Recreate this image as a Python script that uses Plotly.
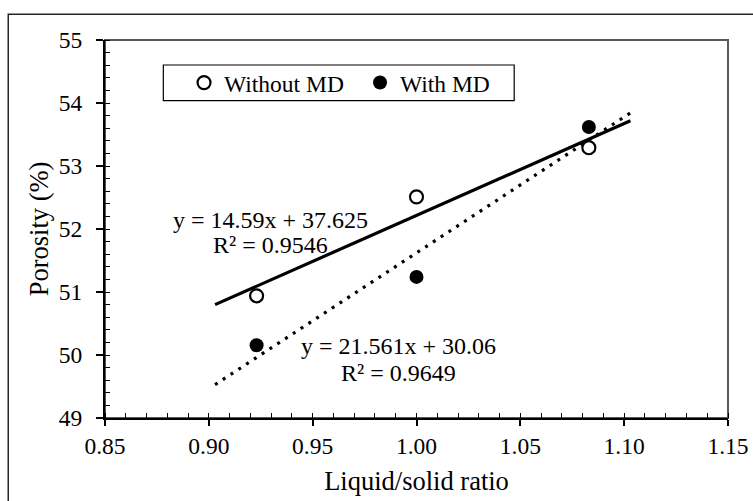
import plotly.graph_objects as go

# ---- data ----
ratio = [0.923, 1.0, 1.083]
porosity_without = [50.94, 52.51, 53.29]
porosity_with = [50.155, 51.24, 53.62]
series_names = ["Without MD", "With MD"]
slopes = [14.59, 21.561]
intercepts = [37.625, 30.06]
r2_values = [0.9546, 0.9649]
x_ticks = [0.85, 0.90, 0.95, 1.00, 1.05, 1.10, 1.15]
y_ticks = [49, 50, 51, 52, 53, 54, 55]
forecast = 0.02

FONT = "Times New Roman, Liberation Serif, serif"
W, H = 753, 501
L, R, T, B = 105, 25.3, 40, 83.3

fig = go.Figure()

# trend lines (from the fitted equations)
x0 = min(ratio) - forecast
x1 = max(ratio) + forecast
for s, b, dash in zip(slopes, intercepts, ["solid", "3px,6.3px"]):
    fig.add_trace(go.Scatter(
        x=[x0, x1], y=[s * x0 + b, s * x1 + b], mode="lines",
        line=dict(color="black", width=3.2, dash=dash),
        showlegend=False, hoverinfo="skip"))

fig.add_trace(go.Scatter(
    x=ratio, y=porosity_without, mode="markers", name=series_names[0],
    marker=dict(symbol="circle-open", size=13, color="black", line=dict(width=2.2))))
fig.add_trace(go.Scatter(
    x=ratio, y=porosity_with, mode="markers", name=series_names[1],
    marker=dict(symbol="circle", size=14, color="black")))

tickfont = dict(family=FONT, size=23.5, color="black")
pw, ph = W - L - R, H - T - B

fig.update_layout(
    width=W, height=H,
    margin=dict(l=L, r=R, t=T, b=B, autoexpand=False),
    paper_bgcolor="white", plot_bgcolor="white",
    font=dict(family=FONT, color="black"),
    showlegend=True,
    legend=dict(orientation="h", x=(184 - L) / pw, xanchor="left", y=0.945, yanchor="top",
                bgcolor="rgba(0,0,0,0)", borderwidth=0,
                font=dict(family=FONT, size=23.5, color="black"),
                entrywidth=131, itemwidth=30, tracegroupgap=0),
    xaxis=dict(range=[0.85, 1.15], tickvals=x_ticks, tickformat=".2f", automargin=False,
               showgrid=False, zeroline=False, showline=True, linecolor="black", linewidth=2,
               ticks="outside", ticklen=6, tickwidth=1.5, tickcolor="black",
               minor=dict(dtick=0.01, ticks="inside", ticklen=5, tickwidth=1.2, tickcolor="black"),
               tickfont=tickfont,
               title=dict(text="Liquid/solid ratio", font=dict(family=FONT, size=26.5, color="black"),
                          standoff=13)),
    yaxis=dict(range=[49, 55], tickvals=y_ticks, automargin=False,
               showgrid=False, zeroline=False, showline=True, linecolor="black", linewidth=2,
               ticks="outside", ticklen=7, tickwidth=1.5, tickcolor="black",
               ticklabelstandoff=9,
               minor=dict(dtick=0.2, ticks="inside", ticklen=5, tickwidth=1.2, tickcolor="black"),
               tickfont=tickfont,
               title=dict(text="Porosity (%)", font=dict(family=FONT, size=26.5, color="black"),
                          standoff=3)),
    xaxis2=dict(range=[0.85, 1.15], tickvals=x_ticks, overlaying="x", anchor="y", side="bottom",
                automargin=False,
                showticklabels=False, showgrid=False, zeroline=False, showline=False,
                ticks="inside", ticklen=6, tickwidth=1.5, tickcolor="black"),
    yaxis2=dict(range=[49, 55], tickvals=y_ticks, overlaying="y", anchor="x", side="left",
                automargin=False,
                showticklabels=False, showgrid=False, zeroline=False, showline=False,
                ticks="inside", ticklen=5, tickwidth=1.5, tickcolor="black"),
)

# plot-area border (gray) and outer chart border
fig.add_shape(type="rect", xref="paper", yref="paper", x0=0, x1=1, y0=0, y1=1,
              line=dict(color="#595959", width=2), layer="below")
fig.add_shape(type="rect", xref="paper", yref="paper",
              x0=(8.3 - L) / pw, x1=1.2, y0=-0.5, y1=(H - B - 14.3) / ph,
              line=dict(color="#262626", width=1.5))
# legend frame
fig.add_shape(type="rect", xref="paper", yref="paper",
              x0=(163.3 - L) / pw, x1=(514 - L) / pw,
              y0=(H - B - 100.5) / ph, y1=(H - B - 65) / ph,
              line=dict(color="black", width=1.2), fillcolor="white", layer="below")

# equation labels
eq_pos = [(0.9295, 52.15, 51.74), (0.9915, 50.14, 49.71)]
for (xa, ya1, ya2), s, b, r2 in zip(eq_pos, slopes, intercepts, r2_values):
    fig.add_annotation(x=xa, y=ya1, xref="x", yref="y", showarrow=False,
                       text=f"y = {s:g}x + {b:g}", font=dict(family=FONT, size=24, color="black"))
    fig.add_annotation(x=xa, y=ya2, xref="x", yref="y", showarrow=False,
                       text=f"R² = {r2:g}", font=dict(family=FONT, size=24, color="black"))

fig.write_html("out.html", config={"displayModeBar": False},
               post_script="document.body.style.margin='0';")
